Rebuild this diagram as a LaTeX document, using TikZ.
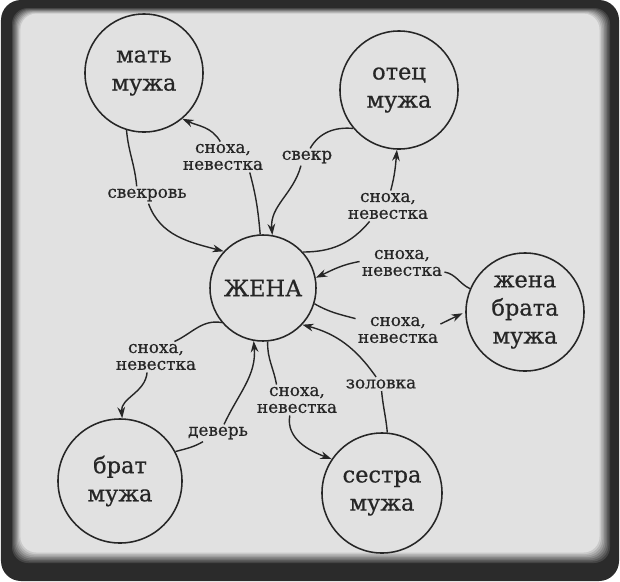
\documentclass[tikz,border=0pt]{standalone}
\usepackage{fontspec}
\setmainfont{DejaVu Serif}
\newfontfamily\inkfont{DejaVu Serif}[FakeBold=0.6]
\usetikzlibrary{arrows.meta}

\definecolor{ink}{HTML}{262626}
\definecolor{paper}{HTML}{E1E1E1}
\definecolor{rim}{HTML}{2B2B2B}

\tikzset{
  rel/.style={circle, draw=ink, line width=1.1pt, minimum size=2.95cm, inner sep=0pt,
    align=center, text=ink, font=\inkfont\fontsize{16}{20}\selectfont},
  lbl/.style={align=center, inner sep=1.5pt, text=ink, font=\inkfont\fontsize{12}{12}\selectfont},
  link/.style={draw=ink, line width=1pt},
}

\begin{document}
\begin{tikzpicture}[x=0.025cm, y=0.025cm, >={Stealth[length=8pt,width=5.5pt]}]
  \useasboundingbox (0,0) rectangle (620,-581);
  % frame
  \fill[white] (0,0) rectangle (620,-581);
  \fill[rim, rounded corners=0.5cm] (1,0) rectangle (619,-581);
  \foreach \i [evaluate=\i as \k using 30+10*\i] in {0,...,7}
    \fill[paper!\k!black, rounded corners=0.4cm] ({12+1.2*\i},{-8-0.8*\i}) rectangle ({610-1.5*\i},{-563+1.5*\i});

  % relatives
  \node[rel] (mat) at (144,-73) {мать\\мужа};
  \node[rel] (otec) at (399,-90) {отец\\мужа};
  \node[rel, minimum size=2.65cm] (zhena) at (263,-288) {ЖЕНА};
  \node[rel] (zbrat) at (525,-312) {жена\\брата\\мужа};
  \node[rel, minimum size=3.1cm] (brat) at (120,-481) {брат\\мужа};
  \node[rel, minimum size=3cm] (sestra) at (382,-493) {сестра\\мужа};

  % labels
  \node[lbl] (l1) at (147,-195) {свекровь};
  \node[lbl] (l2) at (223,-157) {сноха,\\невестка};
  \node[lbl] (l3) at (307,-157) {свекр};
  \node[lbl] (l4) at (388,-206) {сноха,\\невестка};
  \node[lbl] (l5) at (402,-263) {сноха,\\невестка};
  \node[lbl] (l6) at (398,-330) {сноха,\\невестка};
  \node[lbl] (l7) at (381,-384) {золовка};
  \node[lbl] (l8) at (297,-400) {сноха,\\невестка};
  \node[lbl] (l9) at (218,-433) {деверь};
  \node[lbl] (l10) at (156,-357) {сноха,\\невестка};

  % links
  \draw[link] (mat.-107) to[out=-85,in=95] (l1.140);
  \draw[link,->] (l1.-80) to[out=-70,in=165] (zhena.137);
  \draw[link] (zhena.93) to[out=95,in=-75] (l2.-30);
  \draw[link,->] (l2.100) to[out=120,in=-25] (mat.-50);
  \draw[link] (otec.-140) to[out=175,in=60] (l3.70);
  \draw[link,->] (l3.-125) to[out=-105,in=95] (zhena.80);
  \draw[link] (zhena.42) to[out=0,in=-130] (l4.-140);
  \draw[link,->] (l4.80) to[out=75,in=-95] (otec.-92);
  \draw[link] (zbrat.157) to[out=155,in=-10] (l5.-12);
  \draw[link,->] (l5.178) to[out=190,in=25] (zhena.11);
  \draw[link] (zhena.-17) to[out=-30,in=165] (l6.165);
  \draw[link,->,shorten >=2pt] (l6.8) -- (zbrat.180);
  \draw[link] (sestra.85) to[out=95,in=-85] (l7.-85);
  \draw[link,->] (l7.125) to[out=125,in=-15] (zhena.-43);
  \draw[link] (zhena.-85) to[out=-92,in=100] (l8.143);
  \draw[link,->] (l8.-115) to[out=-100,in=160] (sestra.146);
  \draw[link] (brat.28) to[out=15,in=-150] (l9.-150);
  \draw[link,->] (l9.55) to[out=65,in=-85] (zhena.-100);
  \draw[link] (zhena.-140) to[out=170,in=25] (l10.40);
  \draw[link,->] (l10.-120) to[out=-95,in=95] (brat.88);
\end{tikzpicture}
\end{document}
